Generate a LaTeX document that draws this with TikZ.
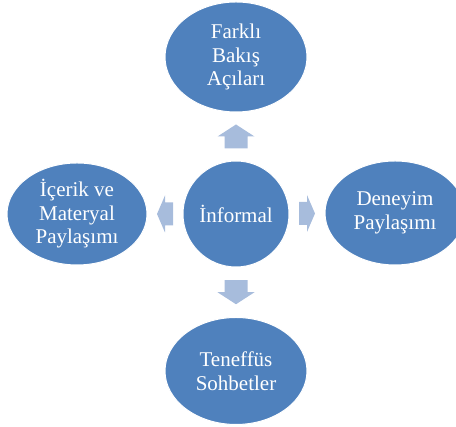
\documentclass[tikz,border=0pt]{standalone}
\usepackage{fontspec}
\setmainfont{Liberation Serif}
\usetikzlibrary{shapes.geometric,calc}
\definecolor{bubble}{HTML}{4F81BD}
\definecolor{arrowblue}{HTML}{A7BCDC}
\tikzset{
  bubble/.style={ellipse, fill=bubble, draw=white, line width=1pt, inner sep=0pt,
    text=white, align=center, font=\fontsize{21}{23.5}\selectfont},
  pics/blockarr/.style={code={
    \fill[arrowblue] (-#1/2,-11.5) -- (0,-11.5) -- (0,-18.5) -- (#1/2,0)
      -- (0,18.5) -- (0,11.5) -- (-#1/2,11.5) -- cycle;}}
}
\begin{document}
\begin{tikzpicture}[x=1pt,y=1pt]
  \useasboundingbox (0,0) rectangle (456,427);
  \clip (0,0) rectangle (456,427);
  % centre circle and the four surrounding topics
  \node[bubble, circle, minimum size=106pt] (c) at (236,213) {İnformal};
  \node[bubble, minimum width=142pt, minimum height=110pt] (t) at (236,370) {Farklı\\Bakış\\Açıları};
  \node[bubble, minimum width=140pt, minimum height=102pt] (l) at (77,213) {İçerik ve\\Materyal\\Paylaşımı};
  \node[bubble, minimum width=140pt, minimum height=104pt] (r) at (395,214) {Deneyim\\Paylaşımı};
  \node[bubble, minimum width=142pt, minimum height=107pt] (b) at (236,56) {Teneffüs\\Sohbetler};
  % block arrows pointing outwards from the centre
  \coordinate (au) at ($(c.north)!0.5!(t.south)$);
  \coordinate (ad) at ($(c.south)!0.5!(b.north)$);
  \coordinate (al) at ($(c.west)!0.5!(l.east)$);
  \coordinate (ar) at ($(c.east)!0.5!(r.west)$);
  \pic[rotate=90] at (au) {blockarr=24};
  \pic[rotate=-90] at (ad) {blockarr=24};
  \pic[rotate=180] at (al) {blockarr=16};
  \pic at (ar) {blockarr=16};
\end{tikzpicture}
\end{document}
